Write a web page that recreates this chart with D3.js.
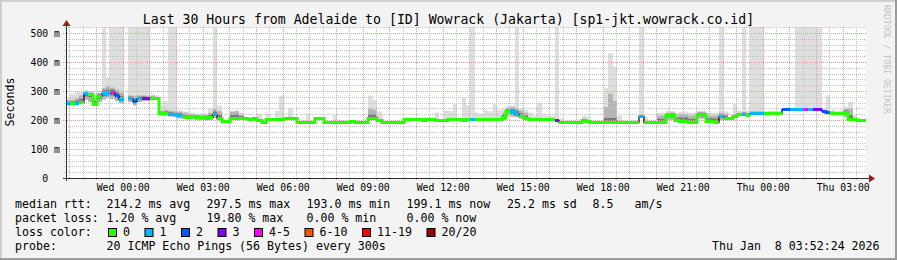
<!DOCTYPE html>
<html><head><meta charset="utf-8">
<script src="https://cdn.jsdelivr.net/npm/d3@7"></script>
<style>
body{margin:0;background:#f3f3f3}
svg{display:block}
text{font-family:"DejaVu Sans Mono",monospace;white-space:pre}
</style>
</head><body><svg id="c" width="897" height="260"></svg>
<script>
// ---------------- data ----------------
const titleText = "Last 30 Hours from Adelaide to [ID] Wowrack (Jakarta) [sp1-jkt.wowrack.co.id]";
const startTime = new Date(2026, 0, 6, 21, 52, 24);
const endTime = new Date(2026, 0, 8, 3, 52, 24);
const stepMinutes = 10;

const median = [
 259,257,258,262,292,289,256,284,294,294,
 297.5,285,271,null,276,265,276,277,276,276,
 276,225,224,221,219,217,215,211,213,211,
 209,207,212,221,206,195,195,208,208,208,
 208,205,206,200,194,205,202,202,203,208,
 208,208,194,194,194,194,208,208,194,194,
 194,194,194,194,198,194,194,194,206,206,
 200,194,194,194,194,194,204,204,203,202,
 199,202,204,201,201,201,204,203,202,199,
 204,203,203,203,203,203,203,203,210,232,
 230,222,215,206,203,203,203,203,203,203,
 200,193,193,193,193,193,199,196,193,193,
 193,193,193,193,193,193,193,193,193,214,
 193,193,193,194,194,218,218,200,198,198,
 193,193,221,220,196,197,194,214,207,208,
 214,219,222,218,223,223,223,224,225,225,
 225,238,238,238,238,238,238,238,238,238,
 232,227,225,225,224,228,204,203,199,199.1
];
const lostPings = [
 1,0,1,0,1,0,0,0,1,1,
 4,2,1,0,1,2,1,3,3,0,
 0,0,0,1,1,1,0,0,0,0,
 0,0,0,1,0,0,0,0,0,0,
 0,0,0,0,0,0,0,0,0,0,
 0,0,0,0,0,0,0,0,0,0,
 0,0,0,0,0,0,0,0,0,0,
 0,0,0,0,0,0,0,0,0,0,
 0,0,0,0,0,0,0,0,0,0,
 0,1,0,0,0,0,0,0,0,0,
 1,1,0,0,0,0,0,0,0,0,
 3,0,0,0,0,0,0,0,0,0,
 0,0,0,0,0,0,0,0,0,1,
 0,0,0,0,0,0,0,0,0,0,
 0,0,0,0,0,0,0,1,0,0,
 0,0,1,0,1,1,1,0,0,0,
 0,2,2,1,1,1,4,1,3,3,
 2,2,0,0,0,0,0,0,0,0
];
// smoke: highest ping, top of the dense smoke, lowest ping (ms); null = nothing visible
const smokeMax = [
 275,290,297,300,305,300,290,300,520,348,
 520,520,520,null,520,520,520,520,520,290,
 285,250,266,520,520,235,230,228,225,222,
 222,222,240,520,250,205,null,232,234,225,
 null,null,null,222,null,221,null,231,284,null,
 241,null,null,null,221,null,null,null,null,null,
 218,null,null,null,null,null,null,null,284,270,
 230,null,null,null,null,null,null,null,null,null,
 210,null,null,226,null,232,232,255,null,278,
 250,520,225,222,235,230,255,235,240,248,
 250,520,240,235,225,215,260,220,215,215,
 520,205,null,null,null,null,215,212,null,null,
 null,310,430,385,215,null,null,null,null,520,
 210,null,null,225,225,232,232,225,228,228,
 225,225,232,232,225,225,225,520,230,null,
 255,232,520,232,520,520,520,230,232,232,
 232,null,null,null,520,520,520,520,520,520,
 240,285,235,232,235,245,262,215,205,null
];
const smokeTop = [
 268,270,275,285,298,295,275,292,310,315,
 312,305,295,null,285,282,285,285,283,283,
 280,232,235,232,230,228,225,222,220,218,
 218,218,225,238,230,null,null,228,230,218,
 null,null,null,null,null,null,null,null,null,null,
 null,null,null,null,null,null,null,null,null,null,
 null,null,null,null,null,null,null,null,240,235,
 null,null,null,null,null,null,null,null,null,null,
 null,null,null,null,null,null,null,null,null,null,
 null,null,null,null,null,null,null,null,225,242,
 245,240,232,225,null,null,null,null,null,null,
 null,null,null,null,null,null,205,null,null,null,
 null,245,290,265,null,null,null,null,null,null,
 null,null,null,215,215,225,226,215,220,220,
 215,215,228,228,215,215,215,225,222,null,
 null,225,228,225,230,230,230,228,228,228,
 228,null,null,null,null,null,null,null,null,null,
 null,null,230,null,null,238,240,null,null,null
];
const smokeMin = [
 250,250,252,255,270,262,250,262,270,275,
 272,265,258,null,262,250,262,265,265,268,
 270,215,215,212,210,205,203,203,203,200,
 200,200,200,208,198,null,null,205,205,205,
 null,null,null,null,null,null,null,null,null,null,
 null,null,null,null,null,null,null,null,null,null,
 null,null,null,null,null,null,null,null,200,200,
 null,null,null,null,null,null,null,null,null,null,
 null,null,null,null,null,null,null,null,null,null,
 null,null,null,null,null,null,null,null,200,215,
 212,210,205,200,null,null,null,null,null,null,
 null,null,null,null,null,null,null,null,null,null,
 null,195,195,195,null,null,null,null,null,null,
 null,null,null,null,null,200,200,null,null,null,
 null,null,205,205,null,null,null,200,null,null,
 null,null,null,null,null,null,null,null,null,null,
 null,null,null,null,null,null,null,null,null,null,
 null,null,null,null,null,210,200,null,null,null
];

const yTicks = [0, 100, 200, 300, 400, 500];
const yTickLabels = ["0", "100 m", "200 m", "300 m", "400 m", "500 m"];
const xTickLabels = ["Wed 00:00","Wed 03:00","Wed 06:00","Wed 09:00","Wed 12:00","Wed 15:00","Wed 18:00","Wed 21:00","Thu 00:00","Thu 03:00"];
const xTickTimes = [
 new Date(2026,0,7,0,0), new Date(2026,0,7,3,0), new Date(2026,0,7,6,0), new Date(2026,0,7,9,0),
 new Date(2026,0,7,12,0), new Date(2026,0,7,15,0), new Date(2026,0,7,18,0), new Date(2026,0,7,21,0),
 new Date(2026,0,8,0,0), new Date(2026,0,8,3,0)
];

const lossLegend = ["0","1","2","3","4-5","6-10","11-19","20/20"];
const lossColors = ["#26ff00","#00b8ff","#0059ff","#7e00ff","#ff00ff","#ff5500","#ff0000","#a10000"];

const statLine1 = ["median rtt:", "214.2 ms avg", "297.5 ms max", "193.0 ms min", "199.1 ms now", "25.2 ms sd", "8.5", "am/s"];
const statLine2 = ["packet loss:", "1.20 % avg", "19.80 % max", "0.00 % min", "0.00 % now"];
const probeLine = ["probe:", "20 ICMP Echo Pings (56 Bytes) every 300s"];
const stampText = "Thu Jan  8 03:52:24 2026";

// ---------------- drawing ----------------
const W = 897, H = 260;
const svg = d3.select("#c");
const L = 66, R = 866, B = 178, T = 27;

svg.append("rect").attr("width", W).attr("height", H).attr("fill", "#f3f3f3");
svg.append("path").attr("d", `M0,${H}V0H${W}`).attr("fill","none").attr("stroke","#cfcfcf").attr("stroke-width",4);
svg.append("path").attr("d", `M0,${H}H${W}V0`).attr("fill","none").attr("stroke","#9c9c9c").attr("stroke-width",4);

const x = d3.scaleTime().domain([startTime, endTime]).range([L, R]);
const y = d3.scaleLinear().domain([0, 500]).range([B, 33]);
const topVal = y.invert(T);
const py = v => Math.round(y(v)) + 0.5;

svg.append("rect").attr("x", L).attr("y", T).attr("width", R - L).attr("height", B - T).attr("fill", "#ffffff");
svg.append("defs").append("clipPath").attr("id","plot")
  .append("rect").attr("x", L).attr("y", T).attr("width", R - L).attr("height", B - T);

// smoke
const bx = i => Math.round(x(new Date(startTime.getTime() + i * stepMinutes * 60000)));
const gSmoke = svg.append("g").attr("clip-path", "url(#plot)");
median.forEach((m, i) => {
  const base = smokeMin[i] != null ? smokeMin[i] : (m != null ? m - 3 : null);
  if (base == null) return;
  const x0 = bx(i), x1 = bx(i + 1);
  if (smokeMax[i] != null) {
    const top = Math.min(smokeMax[i], topVal + 5);
    gSmoke.append("rect").attr("x", x0).attr("width", x1 - x0)
      .attr("y", y(top)).attr("height", y(base) - y(top)).attr("fill", "#dedede");
  }
  if (smokeTop[i] != null) {
    gSmoke.append("rect").attr("x", x0).attr("width", x1 - x0)
      .attr("y", y(smokeTop[i])).attr("height", y(base) - y(smokeTop[i])).attr("fill", "#b4b4b4");
    const mid = m != null ? m : (smokeTop[i] + base) / 2;
    const a = Math.min(smokeTop[i], mid + Math.min(14, (smokeTop[i] - mid) * 0.5));
    const b = Math.max(base, mid - Math.min(14, (mid - base) * 0.5));
    gSmoke.append("rect").attr("x", x0).attr("width", x1 - x0)
      .attr("y", y(a)).attr("height", Math.max(0, y(b) - y(a))).attr("fill", "#7a7a7a");
  }
});

// grid (drawn over the smoke, as rrdtool does)
const gGrid = svg.append("g");
d3.range(20, topVal, 20).forEach(v => {
  const major = v % 100 === 0;
  gGrid.append("line").attr("x1", major ? L - 3 : L - 2).attr("x2", R).attr("y1", py(v)).attr("y2", py(v))
    .attr("stroke", major ? "#f09a9a" : "#c4c4c4").attr("stroke-dasharray", "1,1");
});
d3.timeMinute.every(30).range(startTime, endTime).forEach(t => {
  const major = t.getMinutes() === 0;
  const xx = Math.round(x(t)) + 0.5;
  gGrid.append("line").attr("x1", xx).attr("x2", xx).attr("y1", T).attr("y2", B + 3)
    .attr("stroke", major ? "#f09a9a" : "#c4c4c4").attr("stroke-dasharray", "1,1");
});

// median line: thin black step line then coloured by loss
const lossClass = n => n === 0 ? 0 : n === 1 ? 1 : n === 2 ? 2 : n === 3 ? 3 : n <= 5 ? 4 : n <= 10 ? 5 : n <= 19 ? 6 : 7;
const gLine = svg.append("g").attr("clip-path", "url(#plot)");
let dBlack = "";
median.forEach((m, i) => {
  if (m == null) return;
  const prev = i > 0 ? median[i - 1] : null;
  dBlack += (prev == null ? "M" : "L") + bx(i) + "," + py(m) + "H" + bx(i + 1);
});
gLine.append("path").attr("d", dBlack).attr("fill", "none").attr("stroke", "#000").attr("stroke-width", 1.2);

const runs = [];
median.forEach((m, i) => {
  if (m == null) return;
  const c = lossClass(lostPings[i]);
  const last = runs[runs.length - 1];
  if (last && last.c === c && last.end === i - 1) { last.pts.push(i); last.end = i; }
  else runs.push({ c, end: i, pts: [i] });
});
runs.forEach(r => {
  let d = "";
  r.pts.forEach((i, k) => { d += (k === 0 ? "M" : "L") + bx(i) + "," + py(median[i]) + "H" + bx(i + 1); });
  gLine.append("path").attr("d", d).attr("fill", "none").attr("stroke", lossColors[r.c]).attr("stroke-width", 3);
});

// axes
const axisCol = "#303030", arrowCol = "#9a1e1e";
svg.append("line").attr("x1", L - 3).attr("x2", R + 4).attr("y1", B + 0.5).attr("y2", B + 0.5).attr("stroke", axisCol);
svg.append("line").attr("x1", L + 0.5).attr("x2", L + 0.5).attr("y1", B + 3).attr("y2", T - 3).attr("stroke", axisCol);
svg.append("path").attr("d", `M${R + 3},${B - 3.5}L${R + 9},${B + 0.5}L${R + 3},${B + 4.5}Z`).attr("fill", arrowCol);
svg.append("path").attr("d", `M${L - 3.5},${T - 1}L${L + 0.5},${T - 7}L${L + 4.5},${T - 1}Z`).attr("fill", arrowCol);

const yAxis = d3.axisLeft(y).tickValues(yTicks).tickSize(0).tickPadding(6)
  .tickFormat((d, i) => yTickLabels[i].length < 3 ? yTickLabels[i] + "  " : yTickLabels[i]);
const gy = svg.append("g").attr("transform", `translate(${L},0)`).call(yAxis);
gy.select(".domain").remove();
gy.selectAll("text").attr("font-family", "DejaVu Sans Mono").attr("font-size", 9.8).attr("fill", "#000").attr("dy", "0.36em");

const xAxis = d3.axisBottom(x).tickValues(xTickTimes).tickSize(0).tickPadding(0)
  .tickFormat((d, i) => xTickLabels[i]);
const gx = svg.append("g").attr("transform", `translate(0,${B})`).call(xAxis);
gx.select(".domain").remove();
gx.selectAll("text").attr("font-family", "DejaVu Sans Mono").attr("font-size", 9.8).attr("fill", "#000").attr("dy", null).attr("y", 12.5);

// title
svg.append("text").attr("x", 448.5).attr("y", 23.5).attr("text-anchor", "middle")
  .attr("font-size", 13.2).attr("fill", "#000").text(titleText);

// y label
svg.append("text").attr("transform", "translate(14,102) rotate(-90)").attr("text-anchor", "middle")
  .attr("font-size", 11.6).attr("fill", "#000").text("Seconds");

// watermark
svg.append("text").attr("transform", "translate(884,5) rotate(90)")
  .attr("font-size", 8.2).attr("fill", "#c4c4c4").text("RRDTOOL / TOBI OETIKER");

// legend
const fs = 11.6;
const col = [15, 106.5, 206.5, 306.5, 406.5, 507, 592.5, 634.5];
statLine1.forEach((s, i) => svg.append("text").attr("x", col[i]).attr("y", 208).attr("font-size", fs).text(s));
statLine2.forEach((s, i) => svg.append("text").attr("x", col[i]).attr("y", 222).attr("font-size", fs).text(s));
svg.append("text").attr("x", col[0]).attr("y", 236).attr("font-size", fs).text("loss color:");
let lx = 108.5;
lossLegend.forEach((s, i) => {
  svg.append("rect").attr("x", lx).attr("y", 228.5).attr("width", 8).attr("height", 8)
    .attr("fill", lossColors[i]).attr("stroke", "#000");
  svg.append("text").attr("x", lx + 14.5).attr("y", 236).attr("font-size", fs).text(s);
  lx += 14.5 + s.length * 7.0 + 15;
});
probeLine.forEach((s, i) => svg.append("text").attr("x", col[i]).attr("y", 250).attr("font-size", fs).text(s));
svg.append("text").attr("x", 712).attr("y", 250).attr("font-size", fs).text(stampText);
</script>
</body></html>
